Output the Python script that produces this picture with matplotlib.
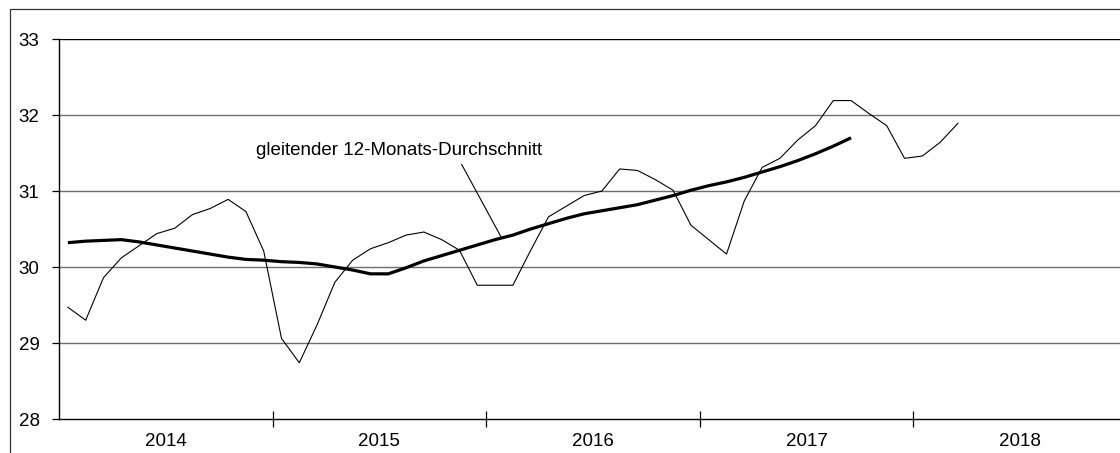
import numpy as np
import matplotlib
matplotlib.use("Agg")
import matplotlib.pyplot as plt
from matplotlib.patches import Rectangle
from matplotlib.ticker import FixedLocator, NullFormatter, FixedFormatter

plt.rcParams['font.family'] = ['Liberation Sans', 'DejaVu Sans']

# monthly values, Jan 2014 .. Mar 2018
monthly = [29.47, 29.30, 29.86, 30.12, 30.28, 30.44, 30.51, 30.69, 30.77, 30.89, 30.73, 30.21,
           29.06, 28.74, 29.24, 29.80, 30.09, 30.24, 30.32, 30.42, 30.46, 30.36, 30.22, 29.76,
           29.76, 29.76, 30.22, 30.66, 30.80, 30.94, 31.00, 31.29, 31.27, 31.15, 31.01, 30.55,
           30.36, 30.17, 30.87, 31.31, 31.43, 31.67, 31.86, 32.19, 32.19, 32.02, 31.86, 31.43,
           31.46, 31.64, 31.89]

# gleitender 12-Monats-Durchschnitt, Jan 2014 .. Sep 2017
moving_avg = [30.32, 30.34, 30.35, 30.36, 30.33, 30.29, 30.25, 30.21, 30.17, 30.13, 30.10, 30.09,
              30.07, 30.06, 30.04, 30.00, 29.96, 29.91, 29.91, 29.99, 30.08, 30.15, 30.22, 30.29,
              30.36, 30.42, 30.50, 30.57, 30.64, 30.70, 30.74, 30.78, 30.82, 30.88, 30.94, 31.01,
              31.07, 31.12, 31.18, 31.25, 31.32, 31.40, 31.49, 31.59, 31.70]

years = ['2014', '2015', '2016', '2017', '2018']
y_ticks = [28, 29, 30, 31, 32, 33]

W, H = 1120, 453
fig = plt.figure(figsize=(W / 100, H / 100), dpi=100)

# outer frame (only left and top edges fall inside the picture)
fig.add_artist(Rectangle((10 / W, -0.1), 1.2, 1.1 - 9 / H, transform=fig.transFigure,
                         fill=False, edgecolor='#333333', lw=0.9))

ax = fig.add_axes([59 / W, (H - 419) / H, (1127 - 59) / W, 380 / H])

x_m = np.arange(len(monthly)) + 0.5
x_a = np.arange(len(moving_avg)) + 0.5

for v in y_ticks[1:]:
    ax.axhline(v, color='#000000' if v == 33 else '#6e6e6e', lw=1.0, zorder=1)

ax.plot(x_m, monthly, color='black', lw=0.8, zorder=3)
ax.plot(x_a, moving_avg, color='black', lw=2.3, zorder=3, solid_capstyle='butt')

ax.set_xlim(0, 12 * len(years))
ax.set_ylim(28, 33)

ax.set_yticks(y_ticks)
ax.set_yticklabels([str(v) for v in y_ticks])
ax.tick_params(axis='y', direction='out', length=5, width=0.9, pad=9, labelsize=13.5)

ax.xaxis.set_major_locator(FixedLocator([12 * k for k in range(1, len(years))]))
ax.xaxis.set_major_formatter(NullFormatter())
ax.xaxis.set_minor_locator(FixedLocator([12 * k + 6 for k in range(len(years))]))
ax.xaxis.set_minor_formatter(FixedFormatter(years))
ax.tick_params(axis='x', which='major', direction='inout', length=12, width=0.9)
ax.tick_params(axis='x', which='minor', length=0, pad=10, labelsize=13.5)

for s in ['top', 'right']:
    ax.spines[s].set_visible(False)
for s in ['left', 'bottom']:
    ax.spines[s].set_linewidth(1.0)

ax.text(11.05, 31.53, 'gleitender 12-Monats-Durchschnitt', fontsize=13.5, va='center', ha='left')
ax.annotate('', xy=(24.87, 30.38), xytext=(22.62, 31.35),
            arrowprops=dict(arrowstyle='-', lw=0.8, color='black', shrinkA=0, shrinkB=0))

fig.savefig('out.png', dpi=100)
